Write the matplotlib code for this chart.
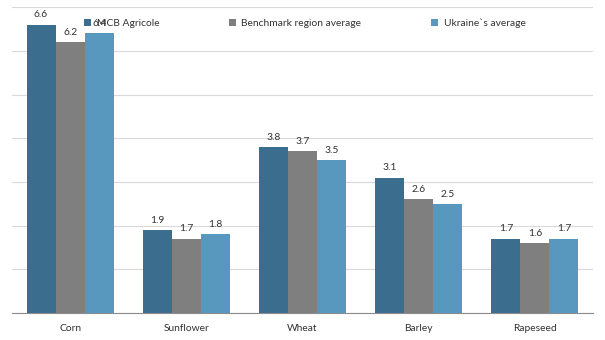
import numpy as np
import matplotlib.pyplot as plt

plt.rcParams['font.family'] = ['Lato', 'DejaVu Sans']

crops = ['Corn', 'Sunflower', 'Wheat', 'Barley', 'Rapeseed']
mcb = [6.6, 1.9, 3.8, 3.1, 1.7]
benchmark = [6.2, 1.7, 3.7, 2.6, 1.6]
ukraine = [6.4, 1.8, 3.5, 2.5, 1.7]

series = [
    ('MCB Agricole', mcb, '#3a6d8e'),
    ('Benchmark region average', benchmark, '#7f7f7f'),
    ("Ukraine`s average", ukraine, '#5898bf'),
]

fig = plt.figure(figsize=(6.05, 3.4), dpi=100)
ax = fig.add_axes([0.0198, 0.0794, 0.9604, 0.8996])

x = np.arange(len(crops))
width = 0.25
for i, (name, vals, color) in enumerate(series):
    bars = ax.bar(x + (i - 1) * width, vals, width, color=color, label=name, zorder=2)
    for b, v in zip(bars, vals):
        ax.text(b.get_x() + b.get_width() / 2, v + 0.12, f'{v:.1f}',
                ha='center', va='bottom', fontsize=7.4, color='#333333', zorder=3)

ax.set_xlim(-0.5, len(crops) - 0.5)
ax.set_ylim(0, 7)
ax.set_yticks(np.arange(0, 8, 1))
ax.set_yticklabels([])
ax.tick_params(axis='y', length=0)
ax.grid(axis='y', color='#d9d9d9', linewidth=0.8, zorder=0)

ax.set_xticks(x)
ax.set_xticklabels(crops, fontsize=7.4, color='#333333')
ax.tick_params(axis='x', length=0, pad=8)

for side in ['top', 'right', 'left']:
    ax.spines[side].set_visible(False)
ax.spines['bottom'].set_color('#8c8c8c')
ax.spines['bottom'].set_zorder(3)

ax.legend(loc='center', bbox_to_anchor=(0.504, 0.948), ncol=3, frameon=False,
          fontsize=7.4, handlelength=0.7, handleheight=0.7, handletextpad=0.5,
          columnspacing=6.8, labelcolor='#333333')

fig.savefig('out.png', dpi=100)
